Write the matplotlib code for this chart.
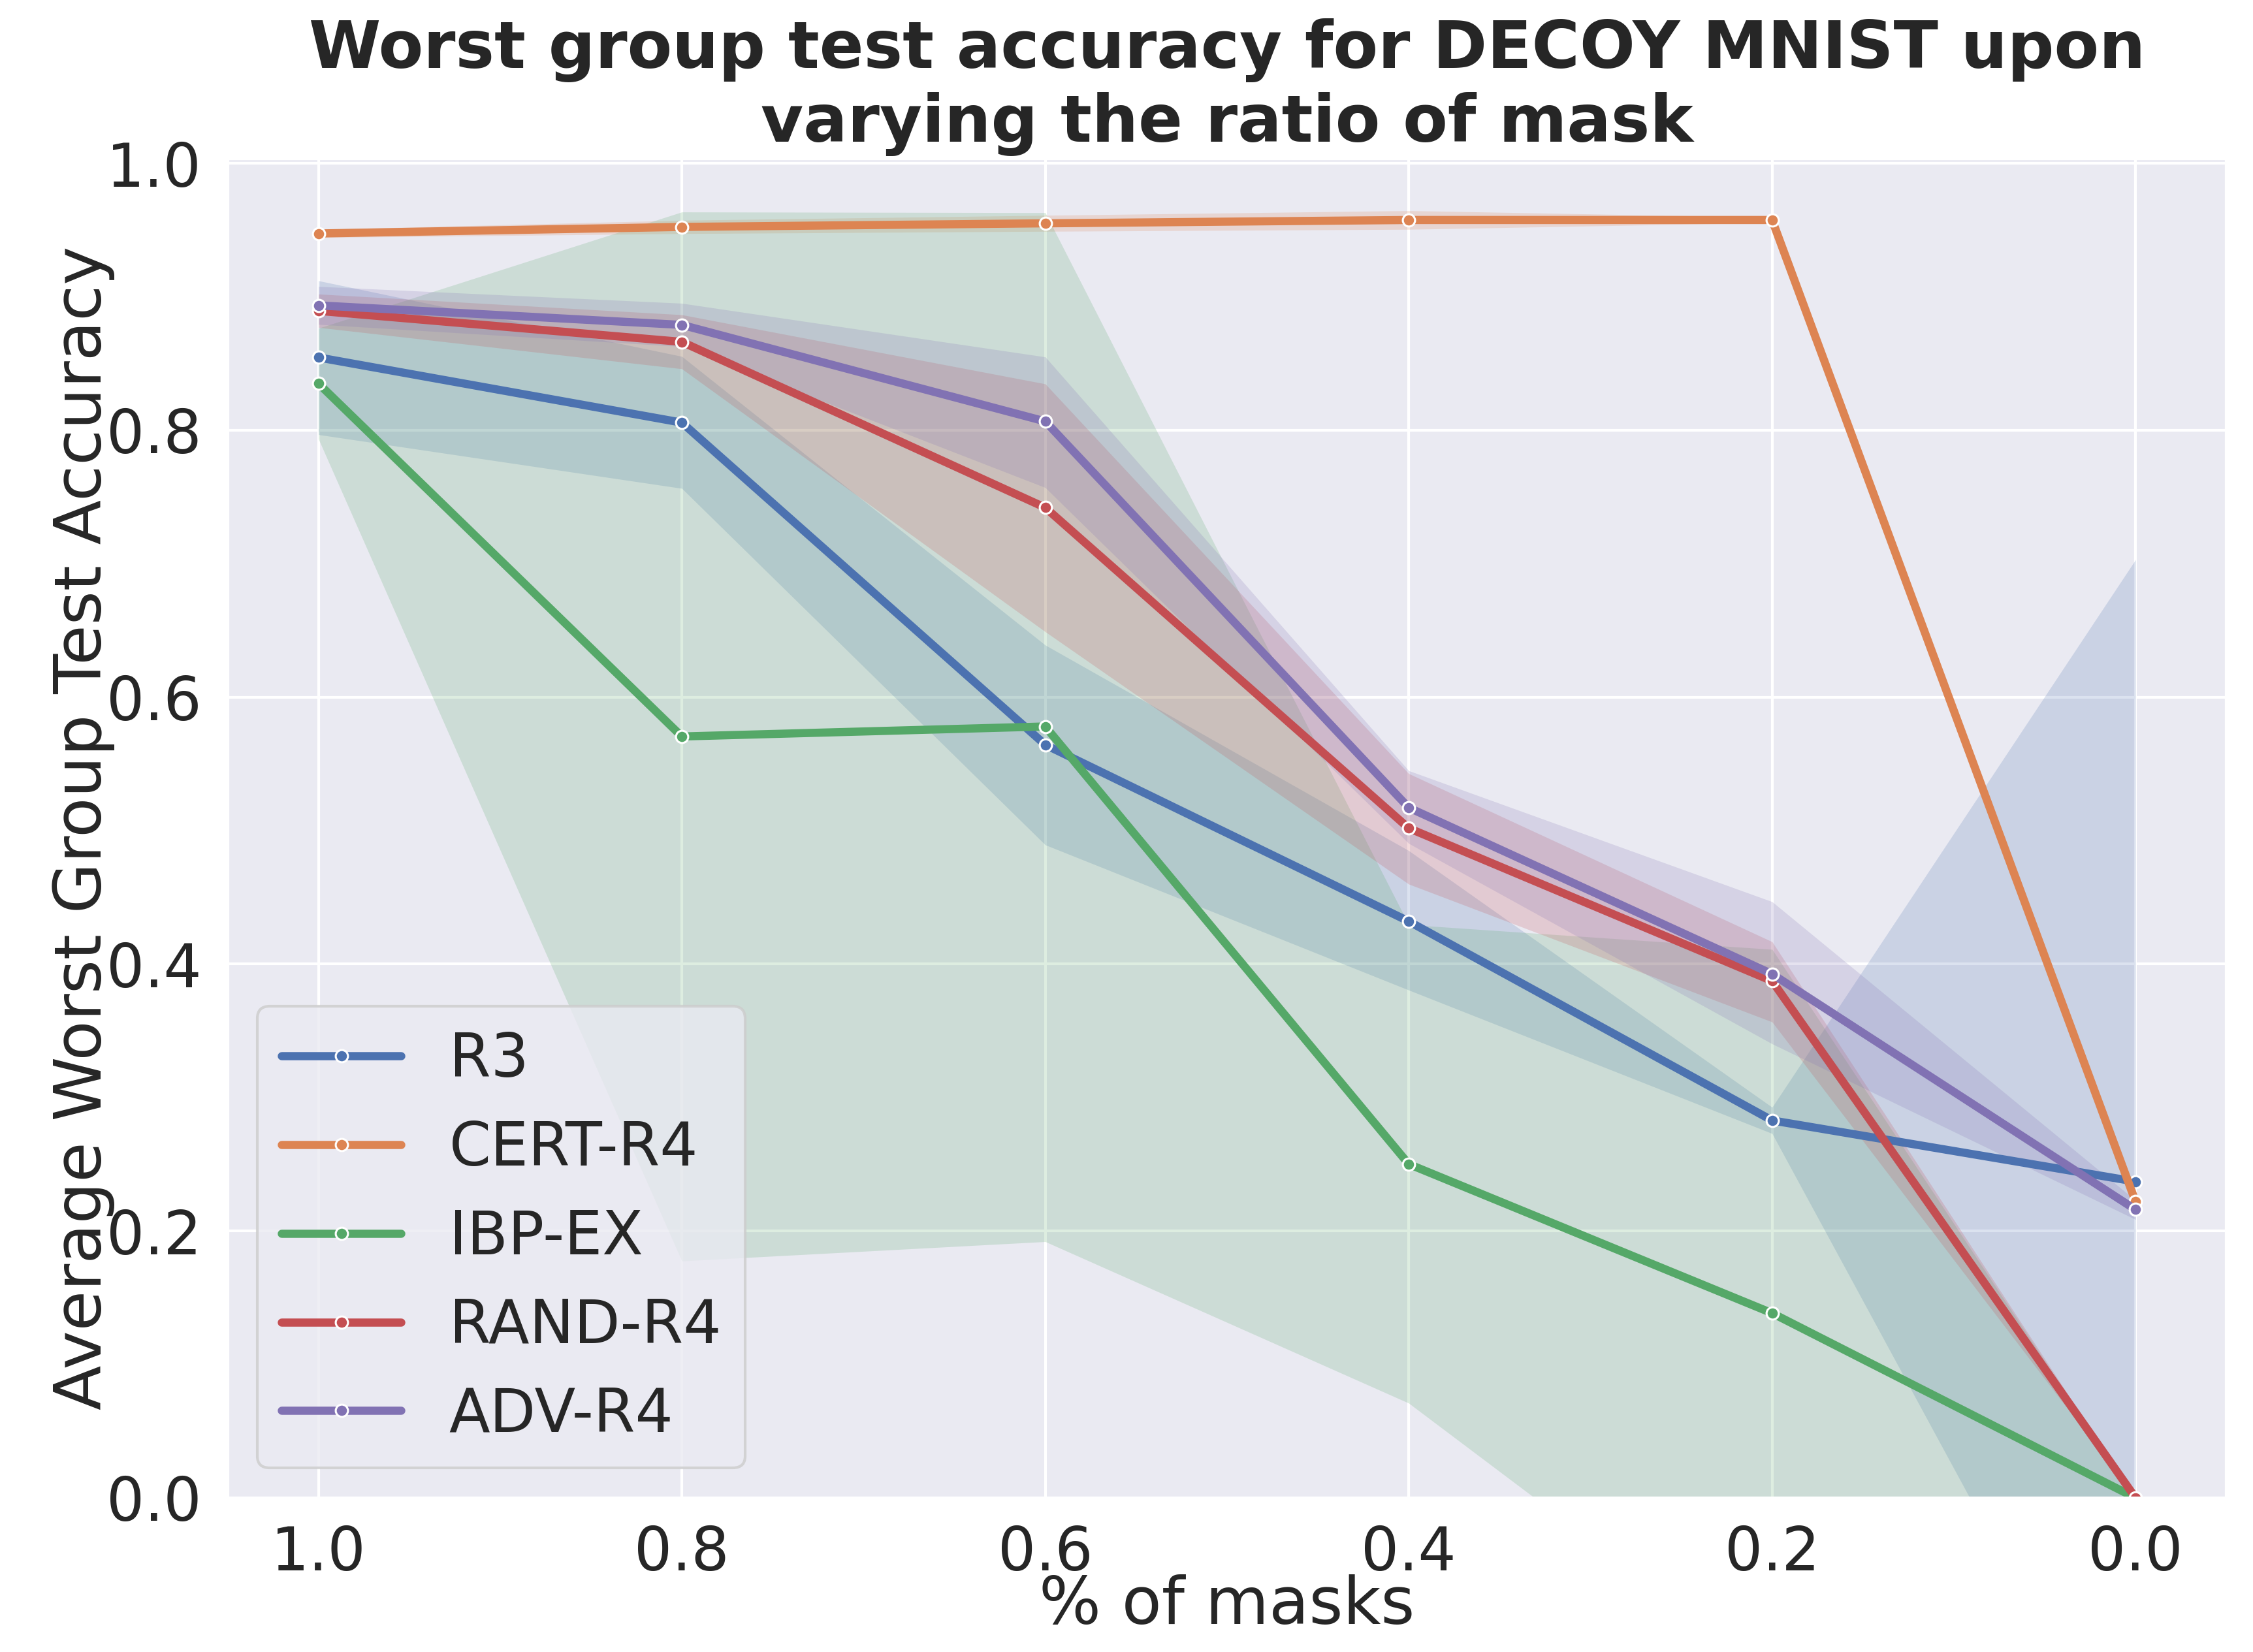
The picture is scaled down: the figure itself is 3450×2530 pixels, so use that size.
import matplotlib
matplotlib.use("Agg")
import matplotlib.pyplot as plt
import seaborn as sns

sns.set_theme(style="darkgrid")
plt.rcParams['font.family'] = ['DejaVu Sans']

# ---- data ----
mask_ratio = [1.0, 0.8, 0.6, 0.4, 0.2, 0.0]
methods = ["R3", "CERT-R4", "IBP-EX", "RAND-R4", "ADV-R4"]

r3_mean = [0.8545, 0.8057, 0.5643, 0.4320, 0.2828, 0.237]
r3_low = [0.7967, 0.7564, 0.4893, 0.3805, 0.2730, -0.229]
r3_high = [0.9120, 0.8553, 0.6390, 0.4850, 0.2927, 0.703]

cert_mean = [0.9474, 0.9523, 0.9550, 0.9575, 0.9575, 0.2220]
cert_low = [0.9444, 0.9473, 0.9490, 0.9505, 0.9555, 0.2190]
cert_high = [0.9504, 0.9573, 0.9610, 0.9645, 0.9595, 0.2250]

ibp_mean = [0.8350, 0.5705, 0.5780, 0.2501, 0.1384, 0.0]
ibp_low = [0.7935, 0.1775, 0.1920, 0.0710, -0.134, 0.0]
ibp_high = [0.8764, 0.9635, 0.9630, 0.4295, 0.4110, 0.0]

rand_mean = [0.8894, 0.8662, 0.7420, 0.5018, 0.3873, 0.0]
rand_low = [0.8770, 0.8460, 0.6490, 0.4599, 0.3566, 0.0]
rand_high = [0.9020, 0.8865, 0.8347, 0.5427, 0.4167, 0.0]

adv_mean = [0.8935, 0.8789, 0.8066, 0.5172, 0.3925, 0.2160]
adv_low = [0.8793, 0.8627, 0.7570, 0.4904, 0.3402, 0.2086]
adv_high = [0.9077, 0.8951, 0.8549, 0.5449, 0.4467, 0.2229]

means = [r3_mean, cert_mean, ibp_mean, rand_mean, adv_mean]
lows = [r3_low, cert_low, ibp_low, rand_low, adv_low]
highs = [r3_high, cert_high, ibp_high, rand_high, adv_high]

# ---- plot ----
fig = plt.figure(figsize=(11.5, 2530 / 300), dpi=300)
ax = fig.add_axes([0.101, 0.0933, 0.8872, 0.8111])
palette = sns.color_palette("deep")

for i, name in enumerate(methods):
    c = palette[i]
    ax.plot(mask_ratio, means[i], color=c, lw=3, marker='o', ms=4.5,
            mec='white', mew=0.75, label=name)
    ax.fill_between(mask_ratio, lows[i], highs[i], color=c, alpha=0.2,
                    linewidth=0)

ax.set_xticks(mask_ratio)
ax.set_xticklabels([f"{v:.1f}" for v in mask_ratio])
ax.set_xlim(1.05, -0.05)
ax.set_ylim(0, 1.004)
ax.tick_params(labelsize=22)
ax.set_xlabel("% of masks", fontsize=24, labelpad=-3)
ax.set_ylabel("Average Worst Group Test Accuracy", fontsize=24, labelpad=-3)
ax.set_title("Worst group test accuracy for DECOY MNIST upon\nvarying the ratio of mask",
             fontsize=24, fontweight='bold')
ax.legend(loc='lower left', fontsize=22)

fig.savefig("out.png", dpi=300)
